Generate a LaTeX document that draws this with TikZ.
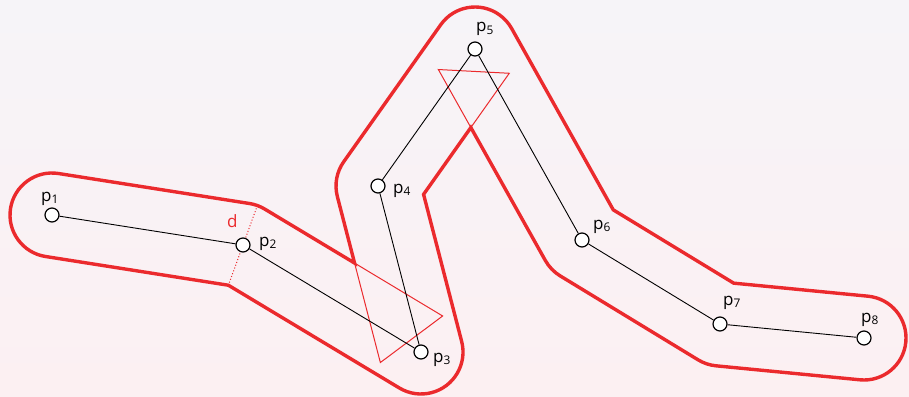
\documentclass[tikz,border=0pt]{standalone}
\usepackage{fontspec}
\setmainfont{Open Sans}
\usetikzlibrary{calc}
\definecolor{cred}{HTML}{EB2A2D}
\definecolor{cbgtop}{HTML}{F6F4F8}
\definecolor{cbgbot}{HTML}{FCF0F2}

\begin{document}
\begin{tikzpicture}[x=1pt,y=1pt,
  pt/.style={draw,circle,fill=white,inner sep=0pt,minimum size=14pt,line width=1.2pt},
  lbl/.style={anchor=base west,inner sep=0pt,font=\fontsize{17}{17}\selectfont},
  seg/.style={line width=0.9pt},
  hull/.style={cred,line width=3.4pt},
  tri/.style={cred,line width=1pt}]
  \useasboundingbox (0,0) rectangle (909,-396);
  \shade[top color=cbgtop,bottom color=cbgbot] (0,0) rectangle (909,-396);

  % polyline points
  \coordinate (c1) at (52,-215);
  \coordinate (c2) at (243,-245);
  \coordinate (c3) at (421,-352);
  \coordinate (c4) at (378,-186);
  \coordinate (c5) at (475,-49);
  \coordinate (c6) at (582,-240);
  \coordinate (c7) at (720,-324);
  \coordinate (c8) at (864,-338);

  % offset lines at distance d on both sides of each segment
  \foreach \i/\j in {1/2,2/3,3/4,4/5,5/6,6/7,7/8}{
    \coordinate (a\i s) at ($(c\i)!42pt!90:(c\j)$);
    \coordinate (a\i e) at ($(c\j)!42pt!-90:(c\i)$);
    \coordinate (b\i s) at ($(c\i)!42pt!-90:(c\j)$);
    \coordinate (b\i e) at ($(c\j)!42pt!90:(c\i)$);
  }
  \coordinate (ma3) at (intersection of a2s--a2e and a3s--a3e);
  \coordinate (ma6) at (intersection of a5s--a5e and a6s--a6e);
  \coordinate (ma7) at (intersection of a6s--a6e and a7s--a7e);
  \coordinate (mb2) at (intersection of b1s--b1e and b2s--b2e);
  \coordinate (mb4) at (intersection of b3s--b3e and b4s--b4e);
  \coordinate (mb5) at (intersection of b4s--b4e and b5s--b5e);

  % outline
  \draw[hull] (a1s) -- (a1e) arc[start angle=81.07,end angle=58.99,radius=42]
    -- (ma3) -- (a3e) arc[start angle=194.52,end angle=144.70,radius=42]
    -- (a4e) arc[start angle=144.70,end angle=29.26,radius=42]
    -- (ma6) -- (ma7) -- (a7e) arc[start angle=84.45,end angle=-95.55,radius=42]
    -- (b7s) arc[start angle=-95.55,end angle=-121.33,radius=42]
    -- (b6s) arc[start angle=-121.33,end angle=-150.74,radius=42]
    -- (mb5) -- (mb4) -- (b3s) arc[start angle=14.52,end angle=-121.01,radius=42]
    -- (mb2) -- (b1s) arc[start angle=261.07,end angle=81.07,radius=42] -- cycle;

  % trimmed corners
  \draw[tri] (ma3) -- (a2e) -- (a3s) -- cycle;
  \draw[tri] (mb5) -- (b4e) -- (b5s) -- cycle;

  % width
  \coordinate (dtop) at ($(c2)+(70:42)$);
  \draw[cred,dotted,line width=1pt] (dtop) -- (mb2);
  \node[lbl,text=cred] (dlab) at (227,-227) {d};

  \foreach \i in {1,...,8}
    \node[pt] (p\i) at (c\i) {};
  \draw[seg] (p1) -- (p2) -- (p3) -- (p4) -- (p5) -- (p6) -- (p7) -- (p8);

  \node[lbl] (l1) at (41,-201) {p\textsubscript{1}};
  \node[lbl] (l2) at (259,-246) {p\textsubscript{2}};
  \node[lbl] (l3) at (433,-362) {p\textsubscript{3}};
  \node[lbl] (l4) at (393,-193) {p\textsubscript{4}};
  \node[lbl] (l5) at (476,-32) {p\textsubscript{5}};
  \node[lbl] (l6) at (593,-229) {p\textsubscript{6}};
  \node[lbl] (l7) at (723,-305) {p\textsubscript{7}};
  \node[lbl] (l8) at (861,-322) {p\textsubscript{8}};
\end{tikzpicture}
\end{document}
